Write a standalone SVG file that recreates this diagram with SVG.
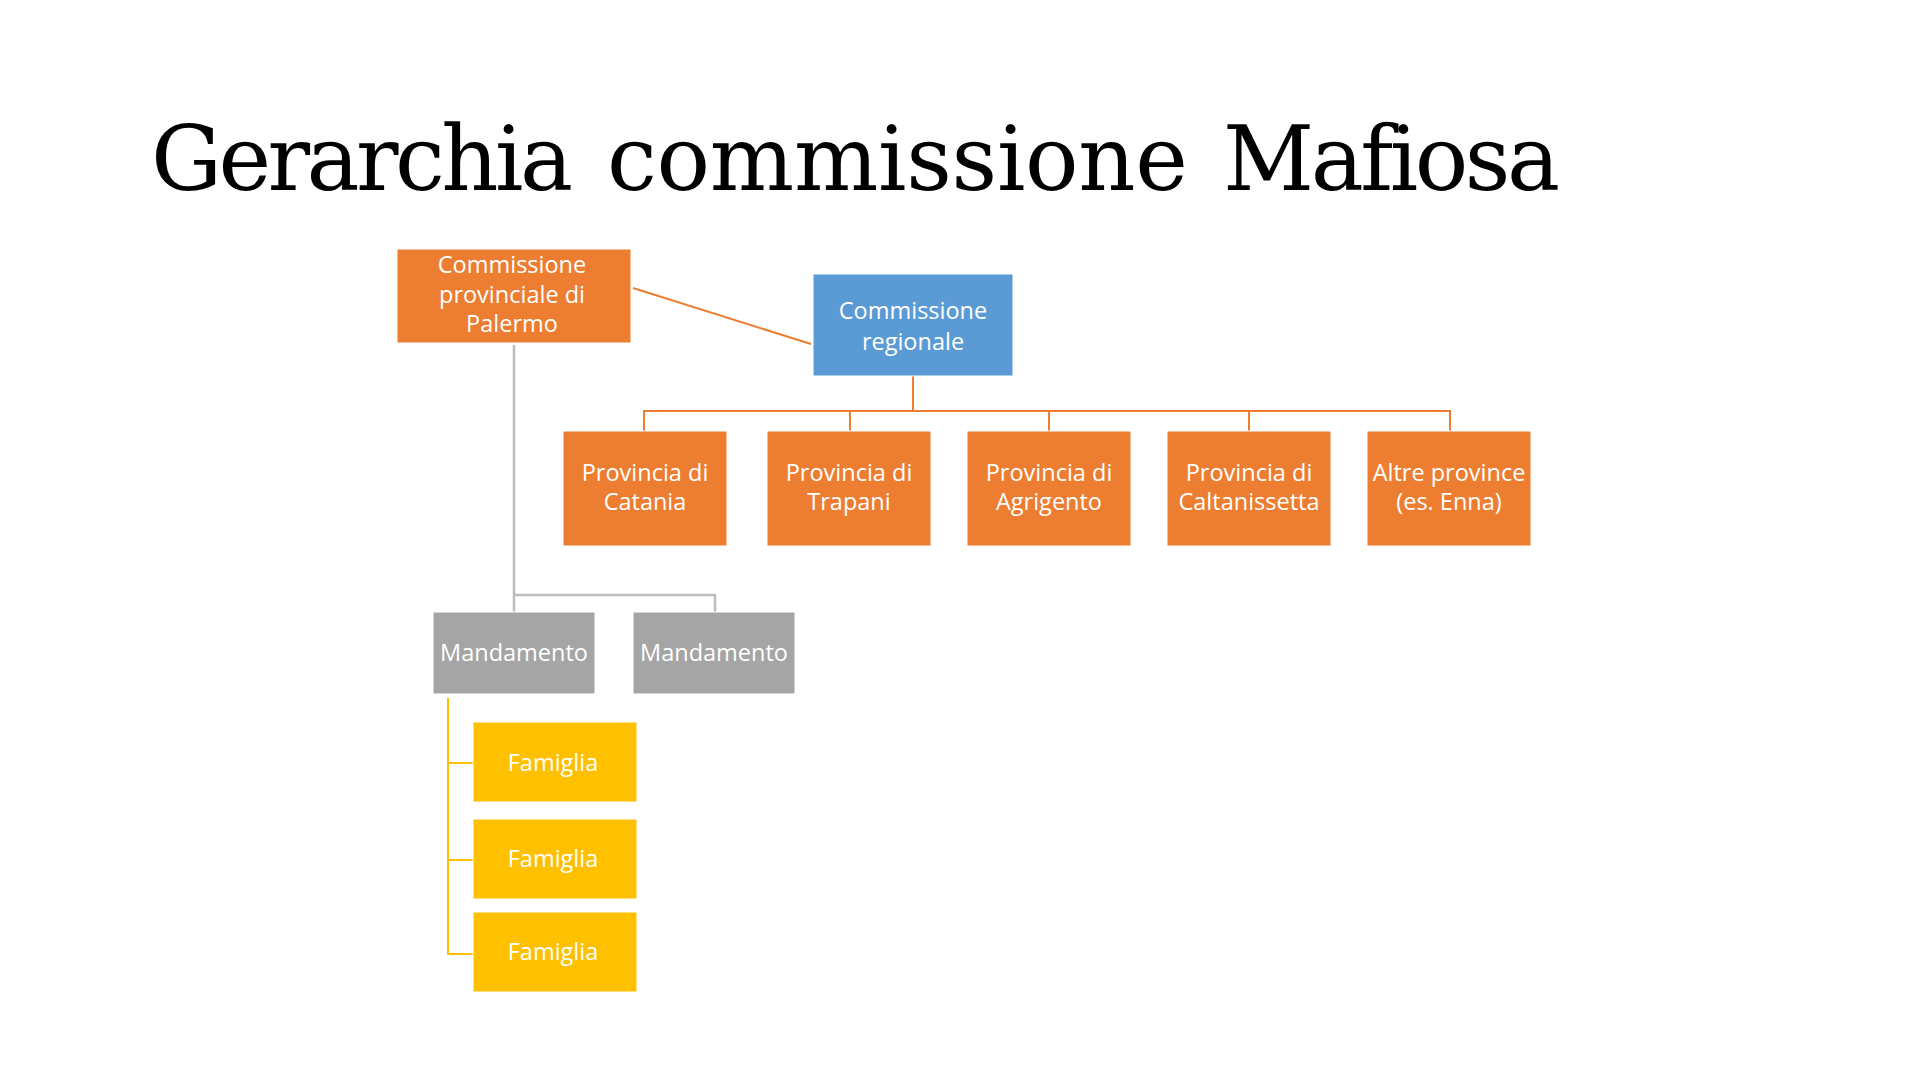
<svg xmlns="http://www.w3.org/2000/svg" width="1920" height="1080" viewBox="0 0 1920 1080">
<style>
.t{font-family:"Open Sans","Noto Sans",sans-serif;font-size:23.5px;fill:#fff;text-anchor:middle}
.title{font-family:"DejaVu Serif",serif;font-size:89px;fill:#000;font-variant-ligatures:none}
.o{fill:#ED7D31;stroke:#fff;stroke-width:1}
.b{fill:#5B9BD5;stroke:#fff;stroke-width:1}
.g{fill:#A5A5A5;stroke:#fff;stroke-width:1}
.y{fill:#FFC000;stroke:#fff;stroke-width:1}
.co{fill:none;stroke:#ED7D31;stroke-width:2}
.cg{fill:none;stroke:#BDBDBD;stroke-width:2.5}
.cy{fill:none;stroke:#FFC000;stroke-width:2}
</style>
<rect width="1920" height="1080" fill="#fff"/>
<text class="title" y="190"><tspan x="151" textLength="422" lengthAdjust="spacing">Gerarchia</tspan><tspan x="607" textLength="581" lengthAdjust="spacing">commissione</tspan><tspan x="1223" textLength="337" lengthAdjust="spacing">Mafiosa</tspan></text>
<g id="connectors">
<line class="co" x1="633" y1="288" x2="811" y2="344"/>
<path class="co" d="M913 376V411M644 431V411H1450V431M850 411V431M1049 411V431M1249 411V431"/>
<path class="cg" d="M514 345V595M514 612V595H715V612"/>
<path class="cy" d="M448 698V954H473M448 763H473M448 860H473"/>
</g>
<g id="palermo"><rect class="o" x="397" y="249" width="234" height="94"/><text class="t" x="512" y="273">Commissione</text><text class="t" x="512" y="303">provinciale di</text><text class="t" x="512" y="332">Palermo</text></g>
<g id="regionale"><rect class="b" x="813" y="274" width="200" height="102"/><text class="t" x="913" y="319">Commissione</text><text class="t" x="913" y="350">regionale</text></g>
<g id="catania"><rect class="o" x="563" y="431" width="164" height="115"/><text class="t" x="645" y="481">Provincia di</text><text class="t" x="645" y="510">Catania</text></g>
<g id="trapani"><rect class="o" x="767" y="431" width="164" height="115"/><text class="t" x="849" y="481">Provincia di</text><text class="t" x="849" y="510">Trapani</text></g>
<g id="agrigento"><rect class="o" x="967" y="431" width="164" height="115"/><text class="t" x="1049" y="481">Provincia di</text><text class="t" x="1049" y="510">Agrigento</text></g>
<g id="caltanissetta"><rect class="o" x="1167" y="431" width="164" height="115"/><text class="t" x="1249" y="481">Provincia di</text><text class="t" x="1249" y="510">Caltanissetta</text></g>
<g id="altre"><rect class="o" x="1367" y="431" width="164" height="115"/><text class="t" x="1449" y="481">Altre province</text><text class="t" x="1449" y="510">(es. Enna)</text></g>
<g id="mandamento1"><rect class="g" x="433" y="612" width="162" height="82"/><text class="t" x="514" y="661">Mandamento</text></g>
<g id="mandamento2"><rect class="g" x="633" y="612" width="162" height="82"/><text class="t" x="714" y="661">Mandamento</text></g>
<g id="famiglia1"><rect class="y" x="473" y="722" width="164" height="80"/><text class="t" x="553" y="771">Famiglia</text></g>
<g id="famiglia2"><rect class="y" x="473" y="819" width="164" height="80"/><text class="t" x="553" y="867">Famiglia</text></g>
<g id="famiglia3"><rect class="y" x="473" y="912" width="164" height="80"/><text class="t" x="553" y="960">Famiglia</text></g>
</svg>
